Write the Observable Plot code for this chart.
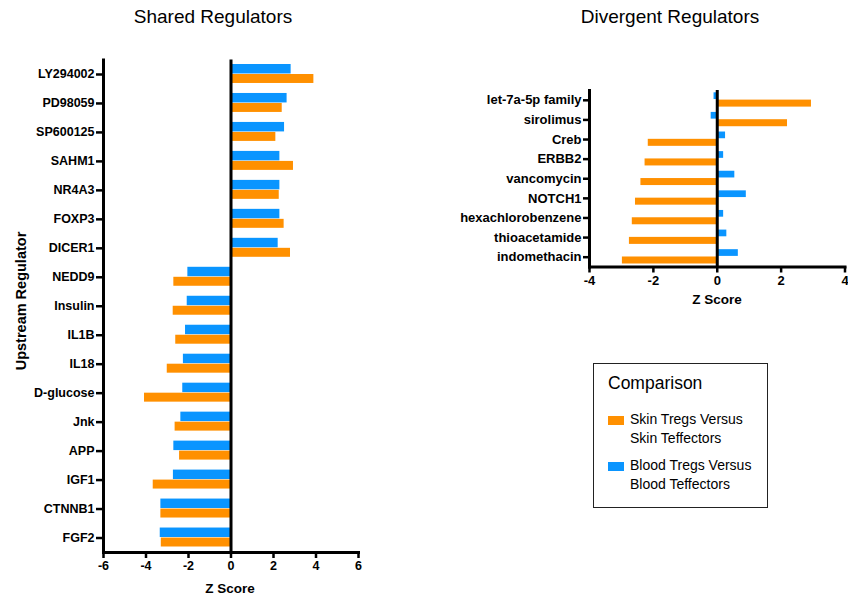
<!DOCTYPE html>
<html>
<head>
<meta charset="utf-8">
<script src="https://cdn.jsdelivr.net/npm/d3@7"></script>
<script src="https://cdn.jsdelivr.net/npm/@observablehq/plot@0.6"></script>
<style>
  html, body { margin: 0; padding: 0; background: #fff; }
  #root { position: relative; width: 848px; height: 601px; overflow: hidden; font-family: "Liberation Sans", Arial, sans-serif; color: #000; }
  .abs { position: absolute; white-space: nowrap; }
  .title { font-size: 19px; font-weight: normal; transform: translate(-50%, -50%); }
  .axlabel { font-size: 13.5px; font-weight: bold; transform: translate(-50%, -50%); }
  #legend { position: absolute; left: 593px; top: 363px; width: 173px; height: 143px; border: 1.5px solid #222; box-sizing: content-box; }
  .legtitle { position: absolute; left: 14px; top: 9px; font-size: 17.5px; }
  .swatch { position: absolute; width: 16px; height: 9px; }
  .legtext { position: absolute; left: 36px; font-size: 14px; line-height: 19px; }
</style>
</head>
<body>
<div id="root"></div>
<script>
// ---- data ----
const sharedRegulators = ["LY294002","PD98059","SP600125","SAHM1","NR4A3","FOXP3","DICER1","NEDD9","Insulin","IL1B","IL18","D-glucose","Jnk","APP","IGF1","CTNNB1","FGF2"];
const sharedSkin  = [3.9, 2.41, 2.11, 2.94, 2.27, 2.5, 2.8, -2.69, -2.72, -2.6, -3.0, -4.07, -2.63, -2.42, -3.66, -3.3, -3.28];
const sharedBlood = [2.83, 2.64, 2.52, 2.3, 2.3, 2.3, 2.22, -2.03, -2.06, -2.14, -2.24, -2.27, -2.36, -2.69, -2.71, -3.3, -3.33];

const divergentRegulators = ["let-7a-5p family","sirolimus","Creb","ERBB2","vancomycin","NOTCH1","hexachlorobenzene","thioacetamide","indomethacin"];
const divergentSkin  = [2.95, 2.2, -2.16, -2.26, -2.39, -2.56, -2.66, -2.75, -2.97];
const divergentBlood = [-0.1, -0.19, 0.26, 0.2, 0.55, 0.91, 0.2, 0.3, 0.66];

const sharedTicks = [-6, -4, -2, 0, 2, 4, 6];
const divergentTicks = [-4, -2, 0, 2, 4];

const seriesNames = ["Skin Tregs Versus\nSkin Teffectors", "Blood Tregs Versus\nBlood Teffectors"];
const seriesColors = ["#ff9000", "#0a95ff"];

const titles = ["Shared Regulators", "Divergent Regulators"];
const xLabel = "Z Score";
const yLabel = "Upstream Regulator";
const legendTitle = "Comparison";

// ---- layout ----
const root = document.getElementById("root");
const fontStyle = {fontFamily: "'Liberation Sans', Arial, sans-serif", fontWeight: "bold", fontSize: "12.5px", color: "#000", background: "transparent", overflow: "visible"};

function panel(regs, skin, blood, ticks, opts) {
  const idx = regs.map((r, i) => i);
  return Plot.plot({
    width: opts.width, height: opts.height,
    marginLeft: opts.ml, marginRight: opts.mr, marginTop: opts.mt, marginBottom: opts.mb,
    style: {...fontStyle, fontSize: opts.fs},
    x: {domain: [ticks[0], ticks[ticks.length - 1]]},
    y: {domain: regs, padding: 0, round: false},
    marks: [
      Plot.barX(idx, {y: i => regs[i], x1: 0, x2: i => blood[i], fill: seriesColors[1], insetTop: opts.bTop, insetBottom: opts.bBot}),
      Plot.barX(idx, {y: i => regs[i], x1: 0, x2: i => skin[i], fill: seriesColors[0], insetTop: opts.oTop, insetBottom: opts.oBot}),
      Plot.ruleX([0], {stroke: "#000", strokeWidth: 3}),
      Plot.frame({anchor: "left", stroke: "#000", strokeWidth: 3}),
      Plot.frame({anchor: "bottom", stroke: "#000", strokeWidth: 3}),
      Plot.axisY({tickSize: opts.yTick, tickPadding: 2, strokeWidth: 2.5, label: null, fontWeight: "bold"}),
      Plot.axisX({ticks, tickSize: 6, tickPadding: 3, strokeWidth: 2.5, label: null, tickFormat: d => String(d), fontWeight: "bold"})
    ]
  });
}

const left = panel(sharedRegulators, sharedSkin, sharedBlood, sharedTicks,
  {width: 370, height: 601, ml: 103, mr: 12, mt: 59.5, mb: 49, fs: "12.5px", yTick: 7,
   bTop: 4.5, bBot: 15, oTop: 14.5, oBot: 5.5});
left.style.position = "absolute"; left.style.left = "0px"; left.style.top = "0px";
root.appendChild(left);

const right = panel(divergentRegulators, divergentSkin, divergentBlood, divergentTicks,
  {width: 410, height: 300, ml: 149, mr: 5.5, mt: 90, mb: 33.5, fs: "13px", yTick: 6,
   bTop: 2.3, bBot: 10.6, oTop: 9.6, oBot: 3});
right.style.position = "absolute"; right.style.left = "440px"; right.style.top = "0px";
root.appendChild(right);

function addText(txt, cls, x, y, extra) {
  const d = document.createElement("div");
  d.className = "abs " + cls;
  d.textContent = txt;
  d.style.left = x + "px"; d.style.top = y + "px";
  if (extra) Object.assign(d.style, extra);
  root.appendChild(d);
  return d;
}
addText(titles[0], "title", 213, 17);
addText(titles[1], "title", 670, 17);
addText(xLabel, "axlabel", 230, 588);
addText(xLabel, "axlabel", 717, 299);
addText(yLabel, "axlabel", 21, 301, {transform: "translate(-50%, -50%) rotate(-90deg)", fontSize: "14.5px"});

// legend
const leg = document.createElement("div");
leg.id = "legend";
root.appendChild(leg);
const lt = document.createElement("div");
lt.className = "legtitle"; lt.textContent = legendTitle;
leg.appendChild(lt);
const itemTops = [46, 92];
seriesNames.forEach((name, i) => {
  const sw = document.createElement("div");
  sw.className = "swatch";
  sw.style.left = "14px"; sw.style.top = (itemTops[i] + 6) + "px";
  sw.style.background = seriesColors[i];
  leg.appendChild(sw);
  const t = document.createElement("div");
  t.className = "legtext";
  t.style.top = itemTops[i] + "px";
  t.style.whiteSpace = "pre";
  t.textContent = name;
  leg.appendChild(t);
});
</script>
</body>
</html>
